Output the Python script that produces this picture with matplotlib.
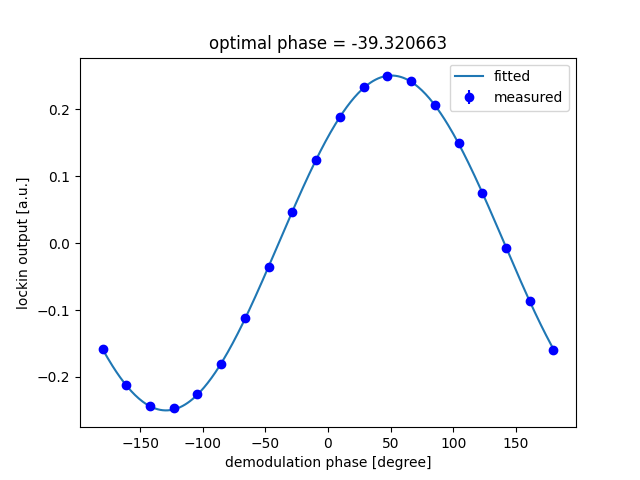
import numpy as np
import matplotlib
matplotlib.use("Agg")
import matplotlib.pyplot as plt

# measured lockin output vs demodulation phase
phase = np.linspace(-180, 180, 20)
signal = [-0.158, -0.212, -0.244, -0.247, -0.226, -0.181, -0.112, -0.035,
          0.046, 0.124, 0.188, 0.233, 0.250, 0.242, 0.206, 0.149,
          0.075, -0.007, -0.087, -0.159]
signal_err = [0.002] * 20

# sine fit: y = a*cos(x) + b*sin(x) + c
rad = np.deg2rad(phase)
M = np.column_stack([np.cos(rad), np.sin(rad), np.ones_like(rad)])
coef, *_ = np.linalg.lstsq(M, np.array(signal), rcond=None)
x_fit = np.linspace(-180, 180, 361)
r_fit = np.deg2rad(x_fit)
y_fit = coef[0] * np.cos(r_fit) + coef[1] * np.sin(r_fit) + coef[2]

plt.figure(figsize=(6.4, 4.8), dpi=100)
plt.plot(x_fit, y_fit, label='fitted')
plt.errorbar(phase, signal, yerr=signal_err, fmt='bo', label='measured')
plt.title('optimal phase = -39.320663')
plt.xlabel('demodulation phase [degree]')
plt.ylabel('lockin output [a.u.]')
plt.legend()
plt.savefig('out.png', dpi=100)
